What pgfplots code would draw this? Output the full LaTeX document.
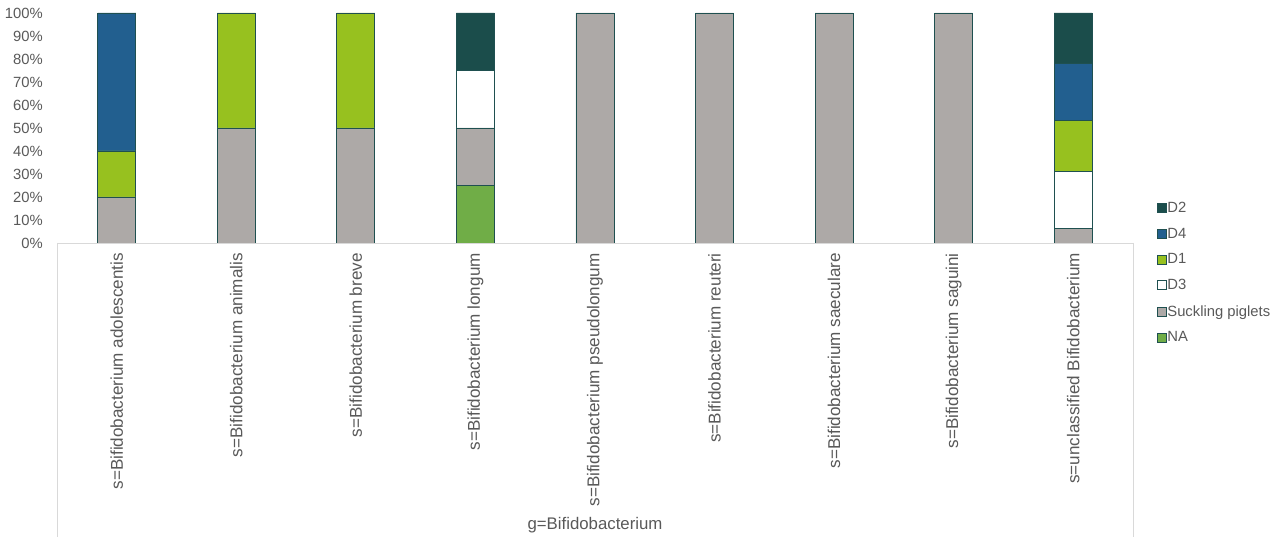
\documentclass[border=0pt]{standalone}
\usepackage{fontspec}
\setmainfont{Liberation Sans}
\usepackage{pgfplots}
\usepackage{pgfplotstable}
\pgfplotsset{compat=1.18}
\definecolor{cD2}{HTML}{1B4D4B}
\definecolor{cD4}{HTML}{225F8F}
\definecolor{cD1}{HTML}{97C11F}
\definecolor{cD3}{HTML}{FFFFFF}
\definecolor{cSP}{HTML}{ADA9A7}
\definecolor{cNA}{HTML}{70AD47}
\definecolor{cEdge}{HTML}{1F5050}
\definecolor{txt}{HTML}{595959}
\definecolor{frame}{HTML}{D9D9D9}
\pgfplotstableread{
x NA SP D3 D1 D4 D2
0 0 20 0 20 60 0
1 0 50 0 50 0 0
2 0 50 0 50 0 0
3 25 25 25 0 0 25
4 0 100 0 0 0 0
5 0 100 0 0 0 0
6 0 100 0 0 0 0
7 0 100 0 0 0 0
8 0 6.25 25 21.875 25 21.875
}\data
\begin{document}
\begin{tikzpicture}[x=1bp,y=1bp]
\useasboundingbox (0,0) rectangle (1276,541);
\draw[frame, line width=0.75bp] (57,298) -- (1133,298);
\draw[frame, line width=0.75bp] (57,298) -- (57,4);
\draw[frame, line width=0.75bp] (1133,298) -- (1133,4);
\node[text=txt, font=\fontsize{16.8bp}{19bp}\selectfont] at (595,16) {g=Bifidobacterium};
\begin{axis}[
  at={(57bp,298bp)}, anchor=south west,
  scale only axis, width=1076bp, height=230bp,
  ybar stacked, bar width=38bp,
  xmin=-0.5, xmax=8.5, ymin=0, ymax=100,
  axis line style={draw=none}, tick style={draw=none},
  /pgf/number format/assume math mode=true,
  xtick=data,
  xticklabels={s=Bifidobacterium adolescentis,s=Bifidobacterium animalis,s=Bifidobacterium breve,s=Bifidobacterium longum,s=Bifidobacterium pseudolongum,s=Bifidobacterium reuteri,s=Bifidobacterium saeculare,s=Bifidobacterium saguini,s=unclassified Bifidobacterium},
  xticklabel style={rotate=90, anchor=east, inner sep=0pt, text=txt, font=\fontsize{17.1bp}{19bp}\selectfont},
  xtick pos=bottom,
  ytick={0,10,...,100},
  yticklabel={\pgfmathprintnumber{\tick}\%},
  yticklabel style={anchor=east, inner sep=0pt, xshift=-14bp, text=txt, font=\fontsize{14.8bp}{17bp}\selectfont},
  every x tick label/.append style={xshift=-10bp},
  legend style={at={(1.0223,0.188)}, anchor=north west, draw=none, fill=none,
    font=\fontsize{14.8bp}{17bp}\selectfont, text=txt, row sep=10.1bp, inner sep=0pt,
    nodes={inner xsep=0.5bp},
    /tikz/every even column/.style={column sep=0bp}},
  legend cell align=left,
  reverse legend,
  legend image code/.code={\draw[#1, line width=0.75bp] (0bp,-4.5bp) rectangle (9bp,4.5bp);},
  every axis plot/.append style={draw=cEdge, line width=0.75bp},
]
\addplot[fill=cNA] table[x=x, y=NA] {\data};
\addplot[fill=cSP] table[x=x, y=SP] {\data};
\addplot[fill=cD3] table[x=x, y=D3] {\data};
\addplot[fill=cD1] table[x=x, y=D1] {\data};
\addplot[fill=cD4] table[x=x, y=D4] {\data};
\addplot[fill=cD2] table[x=x, y=D2] {\data};
\legend{NA,Suckling piglets,D3,D1,D4,D2}
\end{axis}
\end{tikzpicture}
\end{document}
